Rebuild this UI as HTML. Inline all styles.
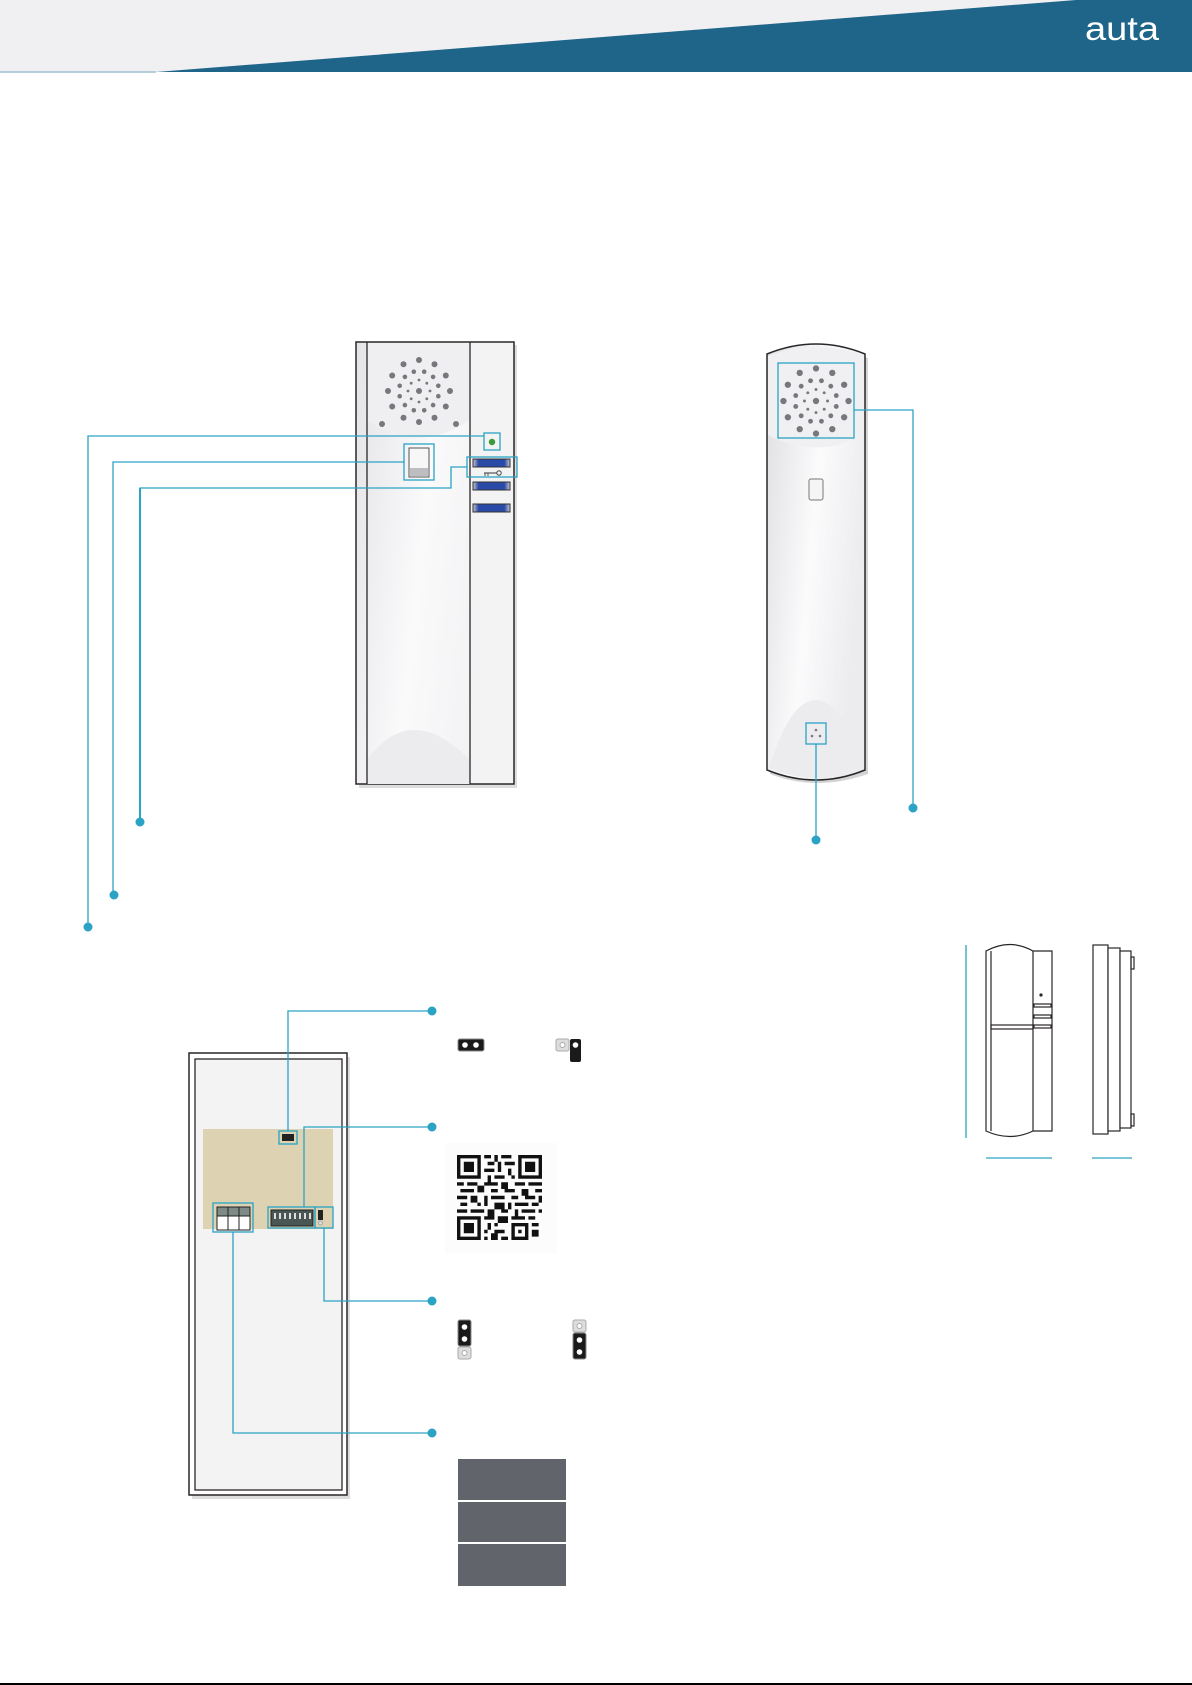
<!DOCTYPE html>
<html><head><meta charset="utf-8"><style>
html,body{margin:0;padding:0;background:#fff}
svg{display:block}
</style></head><body>
<svg width="1192" height="1685" viewBox="0 0 1192 1685" xmlns="http://www.w3.org/2000/svg">
<defs>
<linearGradient id="dev" x1="0" y1="0" x2="1" y2="0.3">
<stop offset="0" stop-color="#e4e4e8"/><stop offset="0.5" stop-color="#fafafb"/><stop offset="1" stop-color="#f1f1f3"/>
</linearGradient>
<linearGradient id="hs" x1="0" y1="0" x2="1" y2="0.4">
<stop offset="0" stop-color="#dedee2"/><stop offset="0.55" stop-color="#fbfbfc"/><stop offset="1" stop-color="#ececef"/>
</linearGradient>
<linearGradient id="btn" x1="0" y1="0" x2="1" y2="0">
<stop offset="0" stop-color="#c8c8cc"/><stop offset="0.15" stop-color="#2a4aa8"/><stop offset="0.85" stop-color="#2a4aa8"/><stop offset="1" stop-color="#c8c8cc"/>
</linearGradient>
<g id="spk" fill="#77777d">
<circle cx="0" cy="0" r="3"/>
<circle cx="31" cy="0" r="3"/><circle cx="26.8" cy="15.5" r="3"/><circle cx="15.5" cy="26.8" r="3"/><circle cx="0" cy="31" r="3"/><circle cx="-15.5" cy="26.8" r="3"/><circle cx="-26.8" cy="15.5" r="3"/><circle cx="-31" cy="0" r="3"/><circle cx="-26.8" cy="-15.5" r="3"/><circle cx="-15.5" cy="-26.8" r="3"/><circle cx="0" cy="-31" r="3"/><circle cx="15.5" cy="-26.8" r="3"/><circle cx="26.8" cy="-15.5" r="3"/>
<circle cx="19.3" cy="5.2" r="2.3"/><circle cx="14.1" cy="14.1" r="2.3"/><circle cx="5.2" cy="19.3" r="2.3"/><circle cx="-5.2" cy="19.3" r="2.3"/><circle cx="-14.1" cy="14.1" r="2.3"/><circle cx="-19.3" cy="5.2" r="2.3"/><circle cx="-19.3" cy="-5.2" r="2.3"/><circle cx="-14.1" cy="-14.1" r="2.3"/><circle cx="-5.2" cy="-19.3" r="2.3"/><circle cx="5.2" cy="-19.3" r="2.3"/><circle cx="14.1" cy="-14.1" r="2.3"/><circle cx="19.3" cy="-5.2" r="2.3"/>
<circle cx="11" cy="0" r="1.4"/><circle cx="7.8" cy="7.8" r="1.4"/><circle cx="0" cy="11" r="1.4"/><circle cx="-7.8" cy="7.8" r="1.4"/><circle cx="-11" cy="0" r="1.4"/><circle cx="-7.8" cy="-7.8" r="1.4"/><circle cx="0" cy="-11" r="1.4"/><circle cx="7.8" cy="-7.8" r="1.4"/>
</g>
</defs>

<!-- header -->
<rect x="0" y="0" width="1192" height="72" fill="#f0f0f2"/>
<polygon points="1076,0 1192,0 1192,72 156,72" fill="#1e6589"/>
<line x1="0" y1="72" x2="156" y2="72" stroke="#9fbfd2" stroke-width="1.5"/>
<text x="1085" y="40" font-family="Liberation Sans, sans-serif" font-size="33" fill="#fff" textLength="74" lengthAdjust="spacingAndGlyphs">auta</text>

<!-- intercom front -->
<rect x="359" y="345" width="158" height="443" fill="#bbb" opacity="0.5"/>
<rect x="356" y="342" width="158" height="442" fill="url(#dev)" stroke="#2a2628" stroke-width="1.5"/>
<path d="M367,420 Q419,455 470,420 L470,343 L367,343 Z" fill="#efeff1"/>
<path d="M367,784 L367,760 Q410,700 470,760 L470,784 Z" fill="#ececef"/>
<rect x="470" y="343" width="43" height="440" fill="#f3f3f4"/>
<line x1="367" y1="342" x2="367" y2="784" stroke="#2a2628" stroke-width="1.3"/>
<line x1="470" y1="342" x2="470" y2="784" stroke="#2a2628" stroke-width="1.3"/>
<use href="#spk" x="419" y="391"/>
<circle cx="382" cy="424" r="3" fill="#77777d"/><circle cx="456" cy="424" r="3" fill="#77777d"/>
<circle cx="492" cy="442" r="3.2" fill="#3a9a3a"/>
<rect x="409" y="448" width="20" height="29" fill="#f7f7f8" stroke="#555" stroke-width="1"/>
<rect x="410" y="468" width="18" height="8" fill="#bdbdc2"/>
<rect x="473" y="459" width="37" height="8" fill="url(#btn)" stroke="#333" stroke-width="1"/>
<rect x="473" y="482" width="37" height="8" fill="url(#btn)" stroke="#333" stroke-width="1"/>
<rect x="473" y="504" width="37" height="8" fill="url(#btn)" stroke="#333" stroke-width="1"/>
<line x1="484" y1="473" x2="497" y2="473" stroke="#555" stroke-width="1.2"/><circle cx="499" cy="473" r="2.2" fill="none" stroke="#555" stroke-width="1.1"/>
<line x1="485" y1="473" x2="485" y2="476" stroke="#555"/><line x1="488" y1="473" x2="488" y2="476" stroke="#555"/>

<!-- highlight boxes -->
<g fill="none" stroke="#2aa3c4" stroke-width="1.3">
<rect x="484" y="433" width="16" height="17"/>
<rect x="404" y="444" width="30" height="36"/>
<rect x="467" y="457" width="50" height="20"/>
<polyline points="484,436 88,436 88,927"/>
<polyline points="404,462 113,462 113,895"/>
<polyline points="467,467 451,467 451,488 140,488 140,822" />
</g>
<line x1="140" y1="488" x2="140" y2="822" stroke="#2aa3c4" stroke-width="2"/>
<g fill="#2aa3c4"><circle cx="88" cy="927" r="4.5"/><circle cx="114" cy="895" r="4.5"/><circle cx="140" cy="822" r="4.5"/></g>

<!-- handset -->
<path d="M770,358 Q816,338 868,358 L868,774 Q816,792 770,774 Z" fill="#aaa" opacity="0.5"/>
<path d="M767,354 Q816,334 865,354 L865,770 Q816,790 767,770 Z" fill="url(#hs)" stroke="#2a2628" stroke-width="1.5"/>
<path d="M768,435 Q816,460 864,435 L864,356 Q816,337 768,356 Z" fill="#f0f0f2"/>
<path d="M769,768 Q790,700 816,700 Q842,700 863,768 Q816,788 769,768 Z" fill="#ececef"/>
<use href="#spk" transform="translate(816,401) scale(1.05)"/>
<rect x="809" y="479" width="14" height="21" rx="2" fill="#f5f5f6" stroke="#777" stroke-width="1"/>
<g fill="#77777d"><circle cx="816" cy="730" r="1.3"/><circle cx="812" cy="736" r="1.3"/><circle cx="820" cy="736" r="1.3"/></g>
<g fill="none" stroke="#2aa3c4" stroke-width="1.3">
<rect x="778" y="363" width="76" height="75"/>
<rect x="806" y="723" width="20" height="21"/>
<polyline points="854,410 913,410 913,808"/>
<line x1="816" y1="744" x2="816" y2="840"/>
</g>
<g fill="#2aa3c4"><circle cx="913" cy="808" r="4.5"/><circle cx="816" cy="840" r="4.5"/></g>

<!-- side views -->
<g fill="none" stroke="#2a2628" stroke-width="1.2">
<path d="M986,951 Q1010,938 1033,951 L1052,951 L1052,1131 L1033,1131 Q1010,1142 986,1131 Z" fill="#fff"/>
<line x1="991" y1="951" x2="991" y2="1131"/>
<line x1="1033" y1="951" x2="1033" y2="1131"/>
<rect x="991" y="1025" width="42" height="4"/>
<rect x="1034" y="1004" width="17" height="3"/><rect x="1034" y="1015" width="17" height="3"/><rect x="1034" y="1025" width="17" height="3"/>
<rect x="1093" y="945" width="15" height="189" fill="#fff"/>
<rect x="1108" y="948" width="12" height="183" fill="#fff"/>
<rect x="1120" y="951" width="11" height="177" fill="#fff"/>
<rect x="1131" y="957" width="3" height="12"/><rect x="1131" y="1114" width="3" height="12"/>
</g>
<circle cx="1041" cy="995" r="1.6" fill="#2a2628"/>
<g stroke="#2aa3c4" stroke-width="1.3">
<line x1="966" y1="945" x2="966" y2="1138"/>
<line x1="986" y1="1158" x2="1052" y2="1158"/>
<line x1="1092" y1="1158" x2="1132" y2="1158"/>
</g>

<!-- back panel -->
<rect x="192" y="1057" width="158" height="442" fill="#bbb" opacity="0.5"/>
<rect x="189" y="1053" width="158" height="442" fill="#fff" stroke="#2a2628" stroke-width="1.5"/>
<rect x="195" y="1059" width="147" height="431" fill="#f3f3f4" stroke="#2a2628" stroke-width="1.3"/>
<rect x="203" y="1129" width="130" height="100" fill="#ddd3b2"/>
<rect x="282" y="1134" width="12" height="7" fill="#222"/>
<rect x="217" y="1207" width="33" height="23" fill="#fff" stroke="#222" stroke-width="1"/>
<rect x="217" y="1207" width="33" height="9" fill="#7d8a86" stroke="#222" stroke-width="1"/>
<line x1="228" y1="1207" x2="228" y2="1230" stroke="#222"/><line x1="239" y1="1207" x2="239" y2="1230" stroke="#222"/>
<rect x="271" y="1210" width="42" height="16" fill="#4a5654" stroke="#222"/>
<g fill="#ddd"><rect x="274" y="1213" width="2" height="6"/><rect x="279" y="1213" width="2" height="6"/><rect x="284" y="1213" width="2" height="6"/><rect x="289" y="1213" width="2" height="6"/><rect x="294" y="1213" width="2" height="6"/><rect x="299" y="1213" width="2" height="6"/><rect x="304" y="1213" width="2" height="6"/><rect x="309" y="1213" width="2" height="6"/></g>
<rect x="318" y="1210" width="5" height="10" fill="#222"/>
<circle cx="320.5" cy="1223" r="2" fill="#ddd" stroke="#aaa"/>
<g fill="none" stroke="#2aa3c4" stroke-width="1.3">
<rect x="279" y="1131" width="18" height="13"/>
<rect x="213" y="1203" width="40" height="29"/>
<rect x="268" y="1207" width="47" height="21"/>
<rect x="315" y="1207" width="18" height="21"/>
<polyline points="288,1131 288,1011 432,1011"/>
<polyline points="304,1207 304,1127 432,1127"/>
<polyline points="324,1228 324,1301 432,1301"/>
<polyline points="233,1232 233,1433 432,1433"/>
</g>
<g fill="#2aa3c4"><circle cx="432" cy="1011" r="4.5"/><circle cx="432" cy="1127" r="4.5"/><circle cx="432" cy="1301" r="4.5"/><circle cx="432" cy="1433" r="4.5"/></g>

<!-- jumpers -->
<rect x="458" y="1039" width="26" height="12" rx="2" fill="#1a1a1a" stroke="#888"/>
<circle cx="465" cy="1045" r="2.8" fill="#fff"/><circle cx="476" cy="1045" r="2.8" fill="#fff"/>
<rect x="556" y="1039" width="13" height="12" rx="2" fill="#ddd" stroke="#aaa"/>
<circle cx="562.5" cy="1045" r="2.5" fill="#fff" stroke="#aaa"/>
<rect x="570" y="1039" width="11" height="23" rx="2" fill="#1a1a1a"/>
<circle cx="575.5" cy="1045" r="2.8" fill="#fff"/>

<rect x="458" y="1320" width="13" height="26" rx="2" fill="#1a1a1a" stroke="#888"/>
<circle cx="464.5" cy="1327" r="2.8" fill="#fff"/><circle cx="464.5" cy="1339" r="2.8" fill="#fff"/>
<rect x="458" y="1347" width="13" height="12" rx="2" fill="#ddd" stroke="#aaa"/><circle cx="464.5" cy="1353" r="2.5" fill="#fff" stroke="#aaa"/>
<rect x="573" y="1320" width="13" height="12" rx="2" fill="#ddd" stroke="#aaa"/><circle cx="579.5" cy="1326" r="2.5" fill="#fff" stroke="#aaa"/>
<rect x="573" y="1333" width="13" height="26" rx="2" fill="#1a1a1a" stroke="#888"/>
<circle cx="579.5" cy="1340" r="2.8" fill="#fff"/><circle cx="579.5" cy="1352" r="2.8" fill="#fff"/>

<!-- QR -->
<rect x="445" y="1143" width="112" height="111" fill="#fcfcfc"/>
<g transform="translate(457,1155) scale(3.4)" fill="#111">
<path d="M0,0h7v7h-7z M1,1v5h5v-5z M2,2h3v3h-3z"/>
<path d="M18,0h7v7h-7z M19,1v5h5v-5z M20,2h3v3h-3z"/>
<path d="M0,18h7v7h-7z M1,19v5h5v-5z M2,20h3v3h-3z"/>
<path d="M8,0h2v1h-2z M11,0h1v2h-1z M13,0h3v1h-3z M9,2h2v1h-2z M12,2h1v3h-1z M14,2h3v1h-3z M8,4h3v1h-3z M15,4h1v2h-1z M9,6h1v2h-1z M11,6h3v1h-3z M16,6h1v1h-1z
M0,8h2v1h-2z M3,8h3v1h-3z M8,8h4v1h-4z M13,8h2v2h-2z M17,8h3v1h-3z M21,8h4v1h-4z
M1,10h4v1h-4z M6,9h2v2h-2z M10,10h2v1h-2z M14,10h3v1h-3z M19,10h2v2h-2z M23,10h2v1h-2z
M0,12h3v1h-3z M4,12h2v2h-2z M8,12h1v3h-1z M10,12h4v1h-4z M16,12h2v1h-2z M20,12h3v1h-3z M24,12h1v2h-1z
M1,14h2v1h-2z M6,14h1v1h-1z M11,14h3v2h-3z M15,14h1v2h-1z M17,14h4v1h-4z M22,14h2v1h-2z
M0,16h3v1h-3z M4,16h4v1h-4z M9,16h2v2h-2z M13,16h2v1h-2z M17,16h1v2h-1z M19,16h4v1h-4z M24,16h1v1h-1z
M8,18h3v1h-3z M12,18h3v2h-3z M16,18h4v1h-4z M21,18h2v1h-2z
M9,20h1v2h-1z M11,20h1v1h-1z M16,20h5v5h-5z M17,21v3h3v-3z M18,22h1v1h-1z M22,20h2v1h-2z
M8,22h1v1h-1z M11,22h3v1h-3z M22,22h2v2h-2z M10,23h2v2h-2z M13,24h2v1h-2z M8,24h1v1h-1z"/>
</g>

<!-- gray boxes -->
<rect x="458" y="1459" width="108" height="41" fill="#62646b"/>
<rect x="458" y="1502" width="108" height="40" fill="#62646b"/>
<rect x="458" y="1544" width="108" height="42" fill="#62646b"/>

<!-- bottom rule -->
<rect x="0" y="1683" width="1192" height="2" fill="#000"/>
</svg>
</body></html>
